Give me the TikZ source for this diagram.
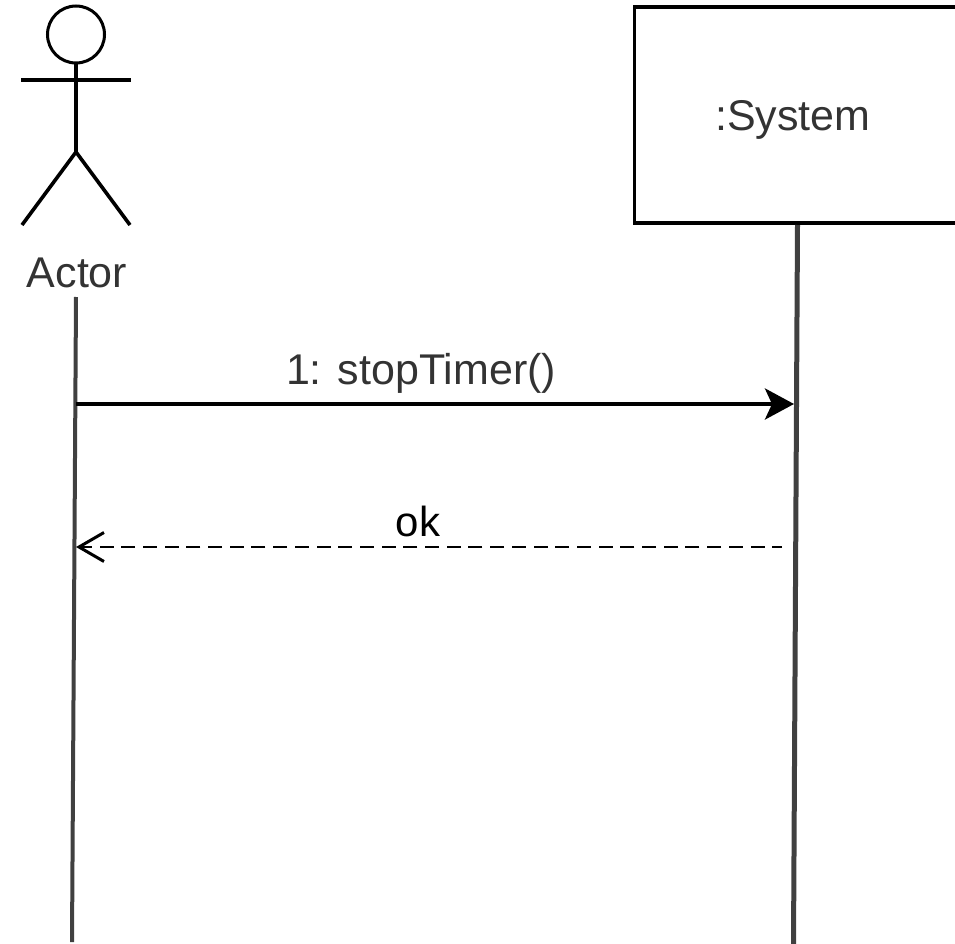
\documentclass[tikz,border=0pt]{standalone}
\usepackage{fontspec}
\setmainfont{Liberation Sans}
\usetikzlibrary{positioning}
\usetikzlibrary{arrows.meta}
\tikzset {
  % stick figure and lifelines
  figure/.style = {line width=3.6pt},
  head/.style = {draw, circle, line width=3pt, minimum size=57pt, inner sep=0pt},
  lifeline/.style = {line width=4pt, black!75},
  % the participant box runs off the right edge
  box/.style = {draw, line width=3.8pt, minimum width=331pt, minimum height=216pt, inner sep=0pt},
  % messages
  call/.style = {line width=4pt, -{Stealth[length=29pt, width=31pt, inset=7pt]}},
  reply/.style = {line width=2.8pt, dash pattern=on 14pt off 7.7pt, dash phase=4.2pt, -{Straight Barb[length=25pt, width=29pt, line width=3pt]}},
  label/.style = {inner sep=0pt, anchor=base, black!80, font=\fontsize{43}{50}\selectfont},
}

\begin{document}
\begin{tikzpicture}[x=1pt, y=-1pt]
  \useasboundingbox (0,0) rectangle (955,944);
  \node[head] (face) at (76,34.5) {};
  \coordinate (hip) at (76,152);
  \coordinate (armL) at (21,80);
  \coordinate (armR) at (131,80);
  \coordinate (footL) at (22,225);
  \coordinate (footR) at (130,225);
  \draw[figure] (face) -- (hip);
  \draw[figure] (armL) -- (armR);
  \draw[figure] (footL) -- (hip) -- (footR);
  \node[label] (actor) at (77,287) {Actor};

  \node[box] (system) at (800,115) {};
  \node[label] (systemname) at (793,131) {:System};

  % lifelines lean a little to the left
  \coordinate (actortop) at (76,297);
  \coordinate (actorend) at (72,942);
  \coordinate (systemtop) at (797.5,225);
  \coordinate (systemend) at (793.5,944);
  \draw[lifeline] (actortop) -- (actorend);
  \draw[lifeline, line width=5pt] (systemtop) -- (systemend);

  % messages
  \coordinate (callstart) at (76,404);
  \coordinate (callend) at (794,404);
  \coordinate (replystart) at (782,547);
  \coordinate (replyend) at (76,547);
  \draw[call] (callstart) -- (callend);
  \draw[reply] (replystart) -- (replyend);
  \node[label] (stop) at (421,384) {1: stopTimer()};
  \node[label, black, font=\fontsize{42}{50}\selectfont] (ok) at (418,536) {ok};
\end{tikzpicture}
\end{document}
